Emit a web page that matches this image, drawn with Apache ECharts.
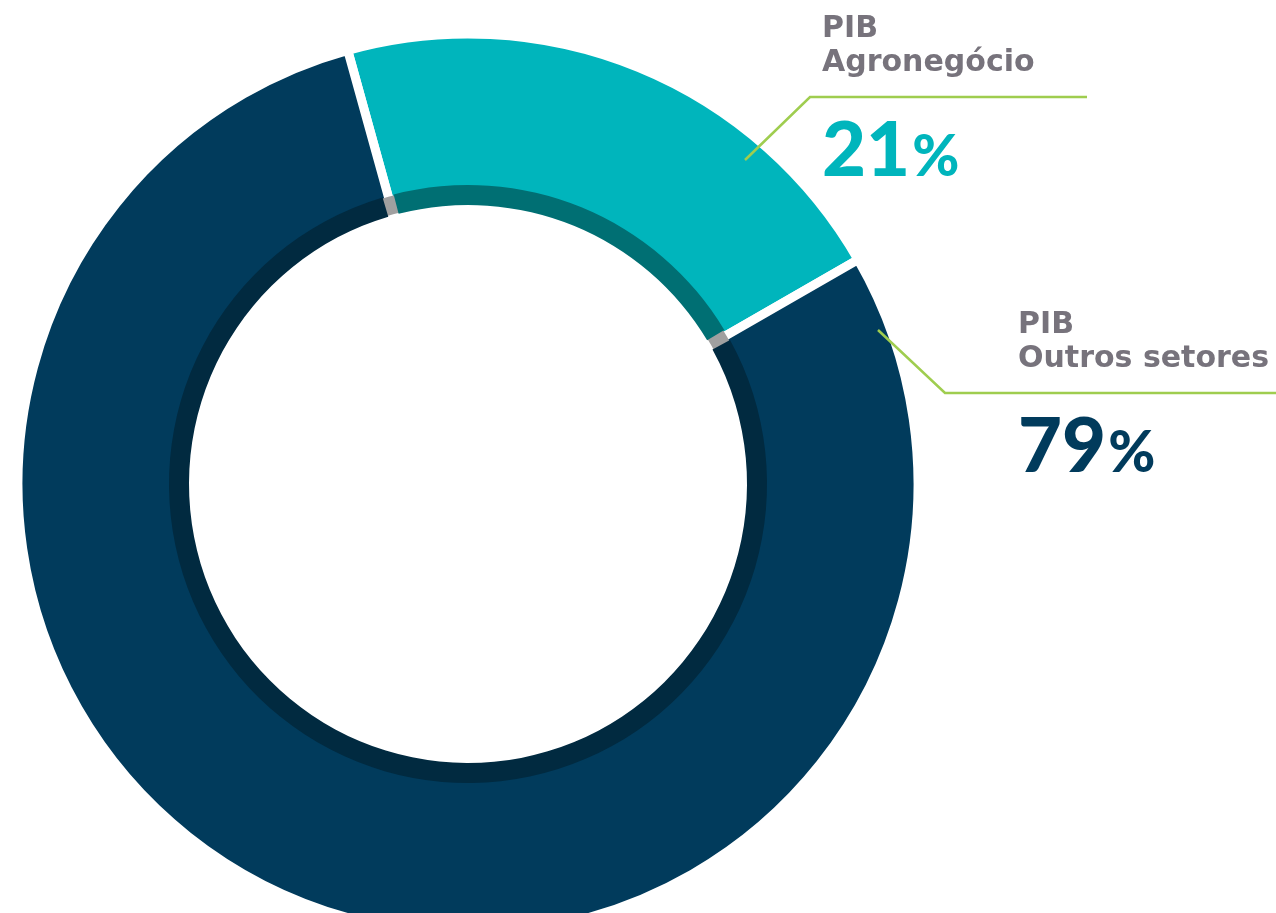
<!DOCTYPE html>
<html>
<head>
<meta charset="utf-8">
<title>PIB Agronegócio</title>
<script src="https://cdn.jsdelivr.net/npm/echarts@6/dist/echarts.min.js"></script>
<style>
  html, body { margin: 0; padding: 0; background: #fff; }
  #chart { width: 1276px; height: 913px; }
</style>
</head>
<body>
<div id="chart"></div>
<script>
// dados
const categories = ["Agronegócio", "Outros setores"];
const shares = [21, 79];
const prefix = "PIB";

// cores
const outerColors = ["#00b5bc", "#013b5c"];
const innerColors = ["#006f73", "#012a40"];
const digitColors = ["#00b5bc", "#013b5c"];

// posição dos rótulos (texto e linha de chamada)
const labelPlaces = [
  { x: 822, y: 12, from: [745, 160], knee: [810, 97], to: [1087, 97] },
  { x: 1018, y: 308, from: [878, 330], knee: [945, 393], to: [1276, 393] }
];

const chart = echarts.init(document.getElementById("chart"));

const center = [468, 484];
const startAngle = 105.5;

const rich = {
  n: { fontFamily: "DejaVu Sans", fontWeight: "bold", fontSize: 30, color: "#77737c", lineHeight: 34 },
  s: { lineHeight: 33, fontSize: 10 }
};
digitColors.forEach(function (c, i) {
  rich["v" + i] = { fontFamily: "Lato", fontWeight: 900, fontSize: 76, color: c, lineHeight: 76, verticalAlign: "bottom" };
  rich["p" + i] = { fontFamily: "Lato", fontWeight: 900, fontSize: 57, color: c, lineHeight: 76, verticalAlign: "bottom", padding: [0, 0, 3, 2] };
});

const option = {
  animation: false,
  series: [
    {
      // anel externo
      type: "pie",
      center: center,
      radius: [285, 450],
      startAngle: startAngle,
      clockwise: true,
      silent: true,
      itemStyle: { borderColor: "#ffffff", borderWidth: 9 },
      label: { show: false },
      labelLine: { show: false },
      data: categories.map(function (c, i) {
        return { name: c, value: shares[i], itemStyle: { color: outerColors[i] } };
      })
    },
    {
      // fundo cinza do anel interno
      type: "pie",
      center: center,
      radius: [280, 298],
      startAngle: startAngle,
      silent: true,
      label: { show: false },
      labelLine: { show: false },
      itemStyle: { color: "#a0a0a0" },
      data: [{ name: "fundo", value: 1 }]
    },
    {
      // anel interno escuro
      type: "pie",
      center: center,
      radius: [279, 299],
      startAngle: startAngle,
      clockwise: true,
      padAngle: 2.2,
      silent: true,
      label: { show: false },
      labelLine: { show: false },
      data: categories.map(function (c, i) {
        return { name: c, value: shares[i], itemStyle: { color: innerColors[i] } };
      })
    },
    {
      // rótulos por cima das fatias
      type: "pie",
      z: 10,
      center: center,
      radius: [285, 450],
      startAngle: startAngle,
      clockwise: true,
      avoidLabelOverlap: false,
      silent: true,
      itemStyle: { color: "rgba(0,0,0,0)" },
      label: {
        show: true,
        position: "outside",
        formatter: function (p) {
          const i = p.dataIndex;
          return "{n|" + prefix + "}\n{n|" + p.name + "}\n{s| }\n{v" + i + "|" + p.value + "}{p" + i + "|%}";
        },
        rich: rich
      },
      labelLine: {
        show: true,
        smooth: false,
        lineStyle: { color: "#9fcd4f", width: 2.5 }
      },
      labelLayout: function (params) {
        const p = labelPlaces[params.dataIndex];
        return {
          x: p.x,
          y: p.y,
          align: "left",
          verticalAlign: "top",
          labelLinePoints: [p.from, p.knee, p.to]
        };
      },
      data: categories.map(function (c, i) {
        return { name: c, value: shares[i] };
      })
    }
  ]
};

chart.setOption(option);
window.addEventListener("resize", function () { chart.resize(); });
</script>
</body>
</html>
